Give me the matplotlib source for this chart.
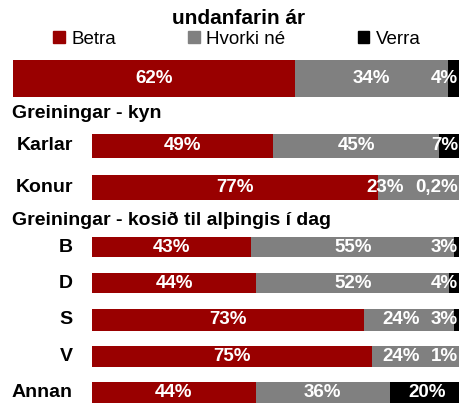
import matplotlib.pyplot as plt
from matplotlib.patches import Patch

plt.rcParams['font.family'] = ['Liberation Sans', 'DejaVu Sans']

# data
title = "undanfarin ár"
series = ["Betra", "Hvorki né", "Verra"]
colors = ["#990000", "#808080", "#000000"]

total = [62.2, 33.8, 4.0]

groups = ["Karlar", "Konur", "B", "D", "S", "V", "Annan"]
betra = [48.6, 76.8, 42.8, 44.2, 73.0, 75.2, 44.0]
hvorki = [44.8, 23.0, 54.6, 51.8, 24.2, 23.8, 36.0]
verra = [6.6, 0.2, 2.6, 4.0, 2.8, 1.0, 20.0]

headings = ["Greiningar - kyn", "Greiningar - kosið til alþingis í dag"]

# layout (pixels from top-left of a 460x403 image)
W, H = 460, 403
row_y = [146, 187.5, 247, 283, 320, 356.5, 392.5]
row_h = [24, 25, 20, 20, 22, 21, 21]
heading_y = [114, 220]


def fx(x):
    return x / W


def fy(y):
    return 1 - y / H


def fmt(v):
    if v < 1:
        return f"{v:.1f}".replace(".", ",") + "%"
    return f"{v:.0f}%"


lab_kw = dict(color='white', fontsize=13.5, fontweight='bold', va='center')


def draw_row(ax, y, h, vals, clamp):
    starts = [0, vals[0], vals[0] + vals[1]]
    for v, s, c in zip(vals, starts, colors):
        ax.barh(y, v, left=s, height=h, color=c, linewidth=0)
    ax.text(vals[0] / 2, y, fmt(vals[0]), ha='center', **lab_kw)
    if vals[2] < 8:
        # small last segment: keep the label inside the picture
        last = ax.text(clamp, y, fmt(vals[2]), ha='right', **lab_kw)
    else:
        last = ax.text(starts[2] + vals[2] / 2, y, fmt(vals[2]), ha='center', **lab_kw)
    if vals[2] < 8 and vals[1] < 30:
        ax.annotate(fmt(vals[1]), xy=(0, 0.5), xycoords=last, xytext=(-11, 0),
                    textcoords='offset pixels', ha='right', **lab_kw)
    else:
        ax.text(starts[1] + vals[1] / 2, y, fmt(vals[1]), ha='center', **lab_kw)


fig = plt.figure(figsize=(4.6, 4.03), dpi=100)

fig.text(fx(239), fy(19), title, ha='center', va='center', fontsize=15, fontweight='bold')

handles = [Patch(color=c) for c in colors]
fig.legend(handles, series, loc='center', bbox_to_anchor=(fx(237), fy(39)), ncol=3,
           frameon=False, fontsize=13.5, handlelength=0.62, handleheight=0.62,
           handletextpad=0.35, columnspacing=3.85, borderpad=0)

# overall bar
ax_t = fig.add_axes([fx(13), 0, 453 / W, 1])
ax_t.set_xlim(0, 100)
ax_t.set_ylim(H, 0)
ax_t.axis('off')
draw_row(ax_t, 78.5, 37, total, (458 - 13) / 453 * 100)

# breakdown bars
ax = fig.add_axes([fx(92), 0, 372 / W, 1])
ax.set_xlim(0, 100)
ax.set_ylim(H, 0)
ax.axis('off')
for g, y, h, b, n, v in zip(groups, row_y, row_h, betra, hvorki, verra):
    draw_row(ax, y, h, [b, n, v], (458 - 92) / 372 * 100)
    fig.text(fx(73), fy(y), g, ha='right', va='center', fontsize=14, fontweight='bold')

for t, y in zip(headings, heading_y):
    fig.text(fx(12), fy(y), t, ha='left', va='center', fontsize=14, fontweight='bold')

fig.savefig('out.png', dpi=100)
